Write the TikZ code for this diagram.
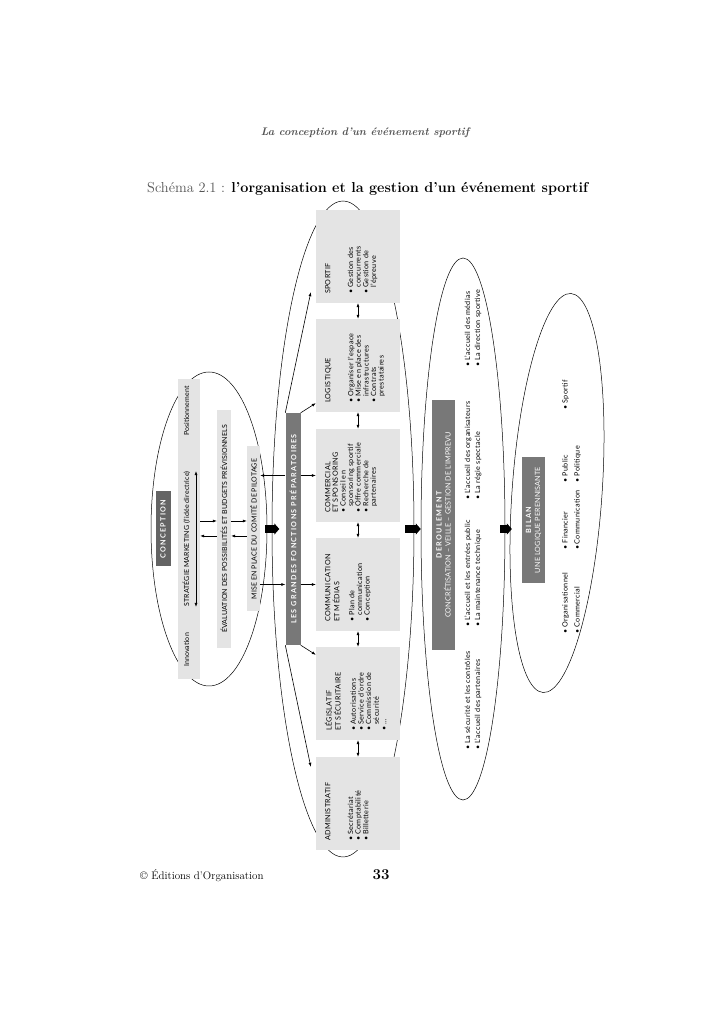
\documentclass[tikz,border=0pt]{standalone}
\usepackage{fontspec}
\usepackage{xcolor}
\usetikzlibrary{arrows.meta,shapes.geometric}
\newfontfamily\diagfont{Lato}[LetterSpace=5]
\newfontfamily\capsfont{Lato}[LetterSpace=2]
\newfontfamily\spacedfont{Lato}[LetterSpace=18]
\definecolor{boxGray}{RGB}{228,228,228}
\definecolor{barDark}{RGB}{120,120,120}
\definecolor{conDark}{RGB}{100,100,100}
\definecolor{headGray}{RGB}{85,85,85}
\newcommand{\fitem}{\textbullet\ }
\newcommand{\fcont}{\hphantom{\textbullet\ }}

\begin{document}
\begin{tikzpicture}[x=1pt, y=1pt,
    ring/.style={ellipse, draw, line width=0.5pt, inner sep=0pt},
    bar/.style={rotate=90, fill=boxGray, inner sep=0pt, font=\capsfont\fontsize{7}{8}\selectfont},
    darkbar/.style={rotate=90, fill=barDark, text=white, inner sep=0pt, align=center,
                    font=\spacedfont\bfseries\fontsize{7.2}{9}\selectfont},
    lbl/.style={rotate=90, inner sep=0pt, font=\capsfont\fontsize{7}{8}\selectfont},
    fbox/.style={rotate=90, fill=boxGray, minimum width=93pt, minimum height=84pt, inner sep=0pt,
                 font=\diagfont\fontsize{7.2}{7.6}\selectfont},
    conn/.style={-{Latex[length=4pt,width=3pt]}, line width=0.6pt},
    dconn/.style={{Latex[length=4pt,width=3pt]}-{Latex[length=4pt,width=3pt]}, line width=0.6pt},
    bigarrow/.style={-{Triangle[length=5pt,width=11pt]}, line width=8pt}
  ]
  \path[use as bounding box, fill=white] (0,0) rectangle (728,1012);

  % page header and footer
  \node[font=\fontsize{11}{13}\selectfont\bfseries\itshape, text=headGray] (runhead) at (365,879)
    {La conception d’un événement sportif};
  \node[anchor=base west, inner sep=0pt, font=\fontsize{14.4}{16}\selectfont] (title) at (147,819)
    {{\color{headGray}Schéma 2.1 :} \textbf{l’organisation et la gestion d’un événement sportif}};
  \node[anchor=base west, inner sep=0pt, font=\fontsize{11}{13}\selectfont] (editor) at (140,132)
    {© Éditions d’Organisation};
  \node[anchor=base, inner sep=0pt, font=\fontsize{15}{17}\selectfont\bfseries] (pagenum) at (381,132) {33};

  % ellipses
  \node[ring, minimum width=116pt, minimum height=314pt] (consEll) at (209,483) {};
  \node[ring, minimum width=142pt, minimum height=656pt] (fonctEll) at (343,483) {};
  \node[ring, minimum width=84pt, minimum height=542pt] (deroulEll) at (463,483) {};
  \node[ring, minimum width=90pt, minimum height=400pt, rotate=-4] (bilanEll) at (557,519) {};

  % conception
  \node[darkbar, fill=conDark, minimum width=75pt, minimum height=15pt] (concept) at (163,483) {CONCEPTION};
  \node[bar, minimum width=300pt, minimum height=22pt] (mkt) at (189,483) {};
  \node[lbl] (innov) at (186.5,362) {Innovation};
  \node[lbl] (strat) at (186.5,473) {STRATÉGIE MARKETING (l’idée directrice)};
  \node[lbl] (posit) at (186.5,601) {Positionnement};
  \node[bar, minimum width=238pt, minimum height=14pt] (eval) at (224,483)
    {ÉVALUATION DES POSSIBILITÉS ET BUDGETS PRÉVISIONNELS};
  \node[bar, minimum width=165pt, minimum height=13pt] (comite) at (253.5,483)
    {MISE EN PLACE DU COMITÉ DE PILOTAGE};
  \node[darkbar, minimum width=232pt, minimum height=15pt] (fonct) at (293,483)
    {LES GRANDES FONCTIONS PRÉPARATOIRES};

  % grandes fonctions
  \node[fbox] (sport) at (358,755.5) {\parbox[c][66pt][t]{75pt}{\begin{tabular}{@{}l@{}}
    SPORTIF\\[15.2pt] \fitem Gestion des\\ \fcont concurrents\\ \fitem Gestion de\\ \fcont l’épreuve
    \end{tabular}}};
  \node[fbox] (logi) at (358,646.5) {\parbox[c][66pt][t]{75pt}{\begin{tabular}{@{}l@{}}
    LOGISTIQUE\\[15.2pt] \fitem Organiser l’espace\\ \fitem Mise en place des\\ \fcont infrastructures\\
    \fitem Contrats\\ \fcont prestataires
    \end{tabular}}};
  \node[fbox] (comm) at (358,536.5) {\parbox[c][66pt][t]{75pt}{\begin{tabular}{@{}l@{}}
    COMMERCIAL\\ ET SPONSORING\\ \fitem Conseil en\\ \fcont sponsoring sportif\\ \fitem Offre commerciale\\
    \fitem Recherche de\\ \fcont partenaires
    \end{tabular}}};
  \node[fbox] (commu) at (358,427.5) {\parbox[c][66pt][t]{75pt}{\begin{tabular}{@{}l@{}}
    COMMUNICATION\\ ET MÉDIAS\\[7.6pt] \fitem Plan de\\ \fcont communication\\ \fitem Conception
    \end{tabular}}};
  \node[fbox] (legis) at (358,318.5) {\parbox[c][66pt][t]{75pt}{\begin{tabular}{@{}l@{}}
    LÉGISLATIF\\ ET SÉCURITAIRE\\[7.6pt] \fitem Autorisations\\ \fitem Service d’ordre\\ \fitem Commission de\\
    \fcont sécurité\\ \fitem …
    \end{tabular}}};
  \node[fbox] (admin) at (358,208.5) {\parbox[c][66pt][t]{75pt}{\begin{tabular}{@{}l@{}}
    ADMINISTRATIF\\[15.2pt] \fitem Secrétariat\\ \fitem Comptabilité\\ \fitem Billetterie
    \end{tabular}}};

  % deroulement
  \node[darkbar, minimum width=250pt, minimum height=23pt] (deroul) at (443.5,487)
    {DEROULEMENT\\ {\capsfont\mdseries CONCRÉTISATION – VEILLE – GESTION DE L’IMPREVU}};
  \node[lbl, anchor=north west, font=\diagfont\fontsize{7.2}{10}\selectfont] (deroulList) at (463,262)
    {\setlength{\tabcolsep}{4pt}\begin{tabular}{@{}p{115pt}p{119pt}p{125pt}l@{}}
      \fitem La sécurité et les contrôles & \fitem L’accueil et les entrées public &
      \fitem L’accueil des organisateurs & \fitem L’accueil des médias\\
      \fitem L’accueil des partenaires & \fitem La maintenance technique &
      \fitem La régie spectacle & \fitem La direction sportive
    \end{tabular}};

  % bilan
  \node[darkbar, minimum width=126pt, minimum height=23pt] (bilan) at (533.5,492)
    {BILAN\\ {\capsfont\mdseries UNE LOGIQUE PERENNISANTE}};
  \node[lbl, anchor=north west, font=\diagfont\fontsize{7.2}{12}\selectfont] (bilanList) at (559,378)
    {\setlength{\tabcolsep}{4pt}\begin{tabular}{@{}p{76pt}p{59pt}p{65pt}l@{}}
      \fitem Organisationnel & \fitem Financier & \fitem Public & \fitem Sportif\\
      \fitem Commercial & \fitem Communication & \fitem Politique &
    \end{tabular}};

  % connectors in the conception
  \draw[dconn] ([xshift=9.5pt]strat.west) -- ([xshift=9.5pt]strat.east);
  \draw[conn] ([yshift=8pt]mkt.south) -- ([yshift=8pt]eval.north);
  \draw[conn] ([yshift=-7pt]eval.north) -- ([yshift=-7pt]mkt.south);
  \draw[conn] ([yshift=8pt]eval.south) -- ([yshift=8pt]comite.north);
  \draw[conn] ([yshift=-7pt]comite.north) -- ([yshift=-7pt]eval.south);
  \draw[bigarrow, shorten <=5pt, shorten >=6pt] (comite.south) -- (fonct.north);
  \draw[conn] ([yshift=53.5pt]fonct.north) -- ([yshift=53.5pt]comite.south);
  \draw[conn] ([yshift=-55.5pt]comite.south) -- ([yshift=-55.5pt]fonct.north);

  % connectors to the functions
  \draw[conn] ([yshift=53.5pt]fonct.south) -- (comm.north);
  \draw[conn] ([yshift=-55.5pt]fonct.south) -- (commu.north);
  \draw[conn] (fonct.south east) -- ([yshift=9pt]logi.north west);
  \draw[conn] (fonct.south west) -- ([yshift=-8pt]legis.north east);
  \draw[conn] (fonct.north east) -- ([xshift=-5pt,yshift=11pt]sport.north west);
  \draw[conn] (fonct.north west) -- ([xshift=-5pt,yshift=-10pt]admin.north east);
  \foreach \a/\b in {sport/logi, logi/comm, comm/commu, commu/legis, legis/admin}
    \draw[dconn] (\a.west) -- (\b.east);

  % from one phase to the next
  \draw[bigarrow] ([xshift=-9pt]fonctEll.east) -- (deroulEll.west);
  \draw[bigarrow] ([xshift=-5pt]deroulEll.east) -- (deroulEll.east -| bilanEll.west);
\end{tikzpicture}
\end{document}
